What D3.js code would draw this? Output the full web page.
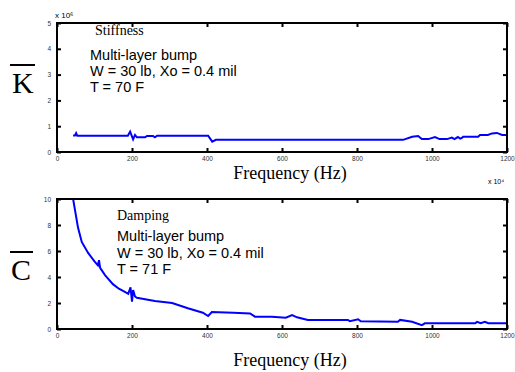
<!DOCTYPE html>
<html>
<head>
<meta charset="utf-8">
<script src="https://cdn.jsdelivr.net/npm/d3@7"></script>
<style>
  body { margin: 0; background: #fff; }
  svg { display: block; }
  .note { font-family: "Liberation Sans", Arial, sans-serif; font-size: 14.5px; fill: #000; }
  .title { font-family: "Liberation Serif", "Times New Roman", serif; font-size: 14px; fill: #000; }
  .xlab { font-family: "Liberation Serif", "Times New Roman", serif; font-size: 18px; fill: #000; }
  .big { font-family: "Liberation Serif", "Times New Roman", serif; font-size: 30px; fill: #000; }
  .tick text { font-family: "Liberation Sans", Arial, sans-serif; font-size: 6.5px; fill: #333; }
</style>
</head>
<body>
<svg id="chart" width="515" height="372"></svg>
<script>
// frequency axis ticks (Hz)
const freqTicks = [0, 200, 400, 600, 800, 1000, 1200];
const stiffTicks = [0, 1, 2, 3, 4, 5];
const dampTicks = [0, 2, 4, 6, 8, 10];

// stiffness (x 10^6) vs frequency
const stiffFreq = [43, 48, 51, 54, 189, 195, 203, 208, 213, 235, 240, 256, 261, 267, 403, 414, 424, 923, 947, 963, 973, 990, 1008, 1020, 1040, 1053, 1060, 1069, 1075, 1080, 1083, 1123, 1128, 1149, 1160, 1173, 1187, 1200];
const stiffVal  = [0.64, 0.64, 0.73, 0.63, 0.63, 0.79, 0.49, 0.66, 0.57, 0.57, 0.62, 0.62, 0.57, 0.63, 0.63, 0.40, 0.47, 0.47, 0.59, 0.62, 0.50, 0.50, 0.58, 0.50, 0.50, 0.56, 0.50, 0.58, 0.52, 0.55, 0.59, 0.59, 0.66, 0.66, 0.72, 0.74, 0.66, 0.66];

// damping vs frequency
const dampFreq = [40, 43, 48, 56, 66, 83, 100, 109, 112, 115, 128, 149, 165, 181, 190, 196, 200, 203, 208, 213, 261, 307, 349, 389, 403, 413, 470, 515, 528, 573, 610, 627, 640, 669, 776, 781, 803, 810, 909, 915, 947, 973, 981, 1115, 1120, 1130, 1141, 1150, 1200];
const dampVal  = [10.5, 10.0, 9.15, 7.8, 6.7, 5.85, 5.2, 4.9, 5.3, 4.7, 4.15, 3.45, 3.1, 2.85, 2.7, 3.2, 2.1, 3.0, 2.5, 2.4, 2.15, 2.0, 1.6, 1.25, 1.0, 1.3, 1.25, 1.2, 0.95, 0.95, 0.87, 1.07, 0.9, 0.7, 0.7, 0.6, 0.75, 0.6, 0.56, 0.7, 0.56, 0.3, 0.44, 0.44, 0.55, 0.44, 0.55, 0.44, 0.44];

const svg = d3.select('#chart');
const left = 57, right = 507;

function drawPanel(top, bottom, yTicks, freqs, vals, clipId) {
  const x = d3.scaleLinear().domain([0, 1200]).range([left, right]);
  const y = d3.scaleLinear().domain([yTicks[0], yTicks[yTicks.length - 1]]).range([bottom, top]);

  svg.append('clipPath').attr('id', clipId)
    .append('rect').attr('x', left).attr('y', top)
    .attr('width', right - left).attr('height', bottom - top);

  const line = d3.line()
    .x((d) => x(d[0]))
    .y((d) => y(d[1]));

  svg.append('path')
    .datum(freqs.map((f, i) => [f, vals[i]]))
    .attr('clip-path', `url(#${clipId})`)
    .attr('d', line)
    .style('fill', 'none')
    .style('stroke', '#0000ff')
    .style('stroke-width', 2);

  // bottom axis with labels, inward ticks
  const gb = svg.append('g').attr('transform', 'translate(0,' + bottom + ')')
    .call(d3.axisBottom(x).tickValues(freqTicks).tickSize(-4).tickPadding(4).tickFormat(d3.format('d')));
  const gt = svg.append('g').attr('transform', 'translate(0,' + top + ')')
    .call(d3.axisTop(x).tickValues(freqTicks).tickSize(-4).tickFormat(''));
  const gl = svg.append('g').attr('transform', 'translate(' + left + ',0)')
    .call(d3.axisLeft(y).tickValues(yTicks).tickSize(-4).tickPadding(6).tickFormat(d3.format('d')));
  const gr = svg.append('g').attr('transform', 'translate(' + right + ',0)')
    .call(d3.axisRight(y).tickValues(yTicks).tickSize(-4).tickFormat(''));
  [gb, gt, gl, gr].forEach((g) => {
    g.select('.domain').remove();
    g.selectAll('line').attr('stroke', '#000').attr('stroke-width', 2);
  });

  svg.append('rect')
    .attr('x', left).attr('y', top)
    .attr('width', right - left).attr('height', bottom - top)
    .style('fill', 'none').style('stroke', '#000').style('stroke-width', 2);
}

drawPanel(23, 152, stiffTicks, stiffFreq, stiffVal, 'clipK');
drawPanel(199, 329, dampTicks, dampFreq, dampVal, 'clipC');

// multipliers
svg.append('text').attr('x', 55).attr('y', 18).attr('class', 'note').style('font-size', '8px').text('x 10⁶');
svg.append('text').attr('x', 488).attr('y', 184).attr('class', 'note').style('font-size', '7px').text('x 10⁴');

// annotations - top
svg.append('text').attr('class', 'title').attr('x', 95).attr('y', 35).text('Stiffness');
svg.append('text').attr('class', 'note').attr('x', 90).attr('y', 60).text('Multi-layer bump');
svg.append('text').attr('class', 'note').attr('x', 90).attr('y', 76).text('W = 30 lb, Xo = 0.4 mil');
svg.append('text').attr('class', 'note').attr('x', 90).attr('y', 92).text('T = 70 F');

// annotations - bottom
svg.append('text').attr('class', 'title').attr('x', 117).attr('y', 220).text('Damping');
svg.append('text').attr('class', 'note').attr('x', 117).attr('y', 241).text('Multi-layer bump');
svg.append('text').attr('class', 'note').attr('x', 117).attr('y', 258).text('W = 30 lb, Xo = 0.4 mil');
svg.append('text').attr('class', 'note').attr('x', 117).attr('y', 274).text('T = 71 F');

// axis titles
svg.append('text').attr('class', 'xlab').attr('x', 290).attr('y', 179).attr('text-anchor', 'middle').text('Frequency (Hz)');
svg.append('text').attr('class', 'xlab').attr('x', 290).attr('y', 366).attr('text-anchor', 'middle').text('Frequency (Hz)');

// K and C with overbars
svg.append('text').attr('class', 'big').attr('x', 12).attr('y', 93).text('K');
svg.append('line').attr('x1', 10).attr('x2', 35).attr('y1', 65).attr('y2', 65).style('stroke', '#000').style('stroke-width', 2);
svg.append('text').attr('class', 'big').attr('x', 11).attr('y', 280).text('C');
svg.append('line').attr('x1', 10).attr('x2', 33).attr('y1', 252).attr('y2', 252).style('stroke', '#000').style('stroke-width', 2);
</script>
</body>
</html>
